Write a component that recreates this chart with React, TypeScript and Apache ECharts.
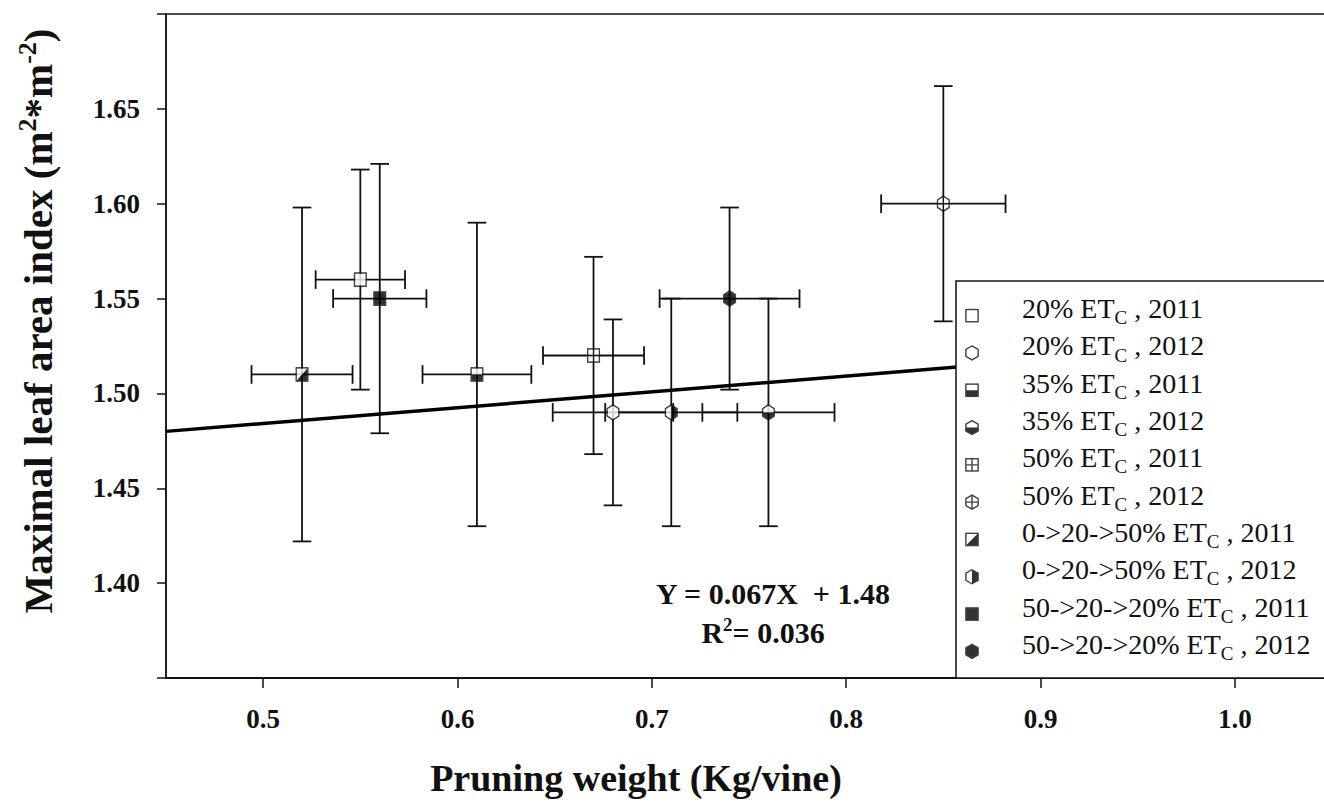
import React, { useEffect, useRef } from 'react';
import * as echarts from 'echarts';

// ---- data ----
const seriesNames = [
  '20% ETc , 2011',
  '20% ETc , 2012',
  '35% ETc , 2011',
  '35% ETc , 2012',
  '50% ETc , 2011',
  '50% ETc , 2012',
  '0->20->50% ETc , 2011',
  '0->20->50% ETc , 2012',
  '50->20->20% ETc , 2011',
  '50->20->20% ETc , 2012',
];
const markerKinds = [
  'square', 'hexagon', 'squareHalf', 'hexagonHalf', 'squarePlus',
  'hexagonPlus', 'squareDiag', 'hexagonRight', 'squareFilled', 'hexagonFilled',
];
const pruningWeight = [0.55, 0.68, 0.61, 0.76, 0.67, 0.85, 0.52, 0.71, 0.56, 0.74];
const pruningWeightError = [0.023, 0.031, 0.028, 0.034, 0.026, 0.032, 0.026, 0.034, 0.024, 0.036];
const leafAreaIndex = [1.56, 1.49, 1.51, 1.49, 1.52, 1.6, 1.51, 1.49, 1.55, 1.55];
const leafAreaIndexError = [0.058, 0.049, 0.08, 0.06, 0.052, 0.062, 0.088, 0.06, 0.071, 0.048];
const regressionX = [0.45, 1.05];
const regressionY = [1.48, 1.53];
const xTickValues = [0.5, 0.6, 0.7, 0.8, 0.9, 1.0];
const yLabelValues = [1.4, 1.45, 1.5, 1.55, 1.6, 1.65];
const equationText = 'Y = 0.067X  + 1.48';
const r2Text = 'R{sup|2}= 0.036';
const xTitle = 'Pruning weight (Kg/vine)';
const yTitle = 'Maximal leaf area index (m{sup|2}*m{sup|-2})';

const INK = '#111';
const SERIF = "'Liberation Serif', 'Times New Roman', serif";

function markerBody(kind: string, ox: number, oy: number): string {
  const sw = 1.6;
  let b = '';
  if (kind.startsWith('hexagon')) {
    const P = (pts: number[][]) => pts.map((p) => `${p[0] + ox},${p[1] + oy}`).join(' ');
    const outline = P([[8, 1], [15, 5], [15, 13], [8, 17], [1, 13], [1, 5]]);
    b += `<polygon points="${outline}" fill="${kind === 'hexagonFilled' ? '#000' : '#fff'}"/>`;
    if (kind === 'hexagonHalf') b += `<polygon points="${P([[1, 9], [15, 9], [15, 13], [8, 17], [1, 13]])}" fill="#000"/>`;
    if (kind === 'hexagonRight') b += `<polygon points="${P([[8, 1], [15, 5], [15, 13], [8, 17]])}" fill="#000"/>`;
    if (kind === 'hexagonPlus') {
      b += `<line x1="${8 + ox}" y1="${1 + oy}" x2="${8 + ox}" y2="${17 + oy}" stroke="${INK}" stroke-width="${sw}"/>`;
      b += `<line x1="${1 + ox}" y1="${9 + oy}" x2="${15 + ox}" y2="${9 + oy}" stroke="${INK}" stroke-width="${sw}"/>`;
    }
    b += `<polygon points="${outline}" fill="none" stroke="${INK}" stroke-width="${sw}"/>`;
  } else {
    const x0 = 1 + ox, y0 = 2 + oy, s = 14;
    b += `<rect x="${x0}" y="${y0}" width="${s}" height="${s}" fill="${kind === 'squareFilled' ? '#000' : '#fff'}"/>`;
    if (kind === 'squareHalf') b += `<rect x="${x0}" y="${y0 + s / 2}" width="${s}" height="${s / 2}" fill="#000"/>`;
    if (kind === 'squareDiag') b += `<polygon points="${x0 + s},${y0} ${x0 + s},${y0 + s} ${x0},${y0 + s}" fill="#000"/>`;
    if (kind === 'squarePlus') {
      b += `<line x1="${x0 + s / 2}" y1="${y0}" x2="${x0 + s / 2}" y2="${y0 + s}" stroke="${INK}" stroke-width="${sw}"/>`;
      b += `<line x1="${x0}" y1="${y0 + s / 2}" x2="${x0 + s}" y2="${y0 + s / 2}" stroke="${INK}" stroke-width="${sw}"/>`;
    }
    b += `<rect x="${x0}" y="${y0}" width="${s}" height="${s}" fill="none" stroke="${INK}" stroke-width="${sw}"/>`;
  }
  return b;
}

function markerImage(kind: string): string {
  const svg = `<svg xmlns="http://www.w3.org/2000/svg" width="16" height="18" viewBox="0 0 16 18">${markerBody(kind, 0, 0)}</svg>`;
  return 'image://data:image/svg+xml;base64,' + btoa(svg);
}

// legend icon: marker sits a little below the text's middle, as in the reference
function legendImage(kind: string): string {
  const svg = `<svg xmlns="http://www.w3.org/2000/svg" width="16" height="40" viewBox="0 0 16 40">${markerBody(kind, 0, 19)}</svg>`;
  return 'image://data:image/svg+xml;base64,' + btoa(svg);
}

export default function App() {
  const ref = useRef<HTMLDivElement>(null);

  useEffect(() => {
    if (!ref.current) return;
    const chart = echarts.init(ref.current, undefined, { renderer: 'svg' });

    const errorData = pruningWeight.map((x, i) => [x, leafAreaIndex[i], pruningWeightError[i], leafAreaIndexError[i]]);

    const scatterSeries = seriesNames.map((name, i) => ({
      type: 'scatter',
      name,
      data: [[pruningWeight[i], leafAreaIndex[i]]],
      symbol: markerImage(markerKinds[i]),
      symbolSize: [15, 17],
      z: 6,
      silent: true,
    }));

    const option: any = {
      animation: false,
      backgroundColor: '#fff',
      grid: {
        left: 166,
        right: 8,
        top: 14,
        bottom: 127,
        show: true,
        borderColor: INK,
        borderWidth: 1.5,
        backgroundColor: 'transparent',
      },
      xAxis: {
        type: 'value',
        min: 0.45,
        max: 1.05,
        axisLine: { show: true, onZero: false, lineStyle: { color: INK, width: 2.2 } },
        axisTick: { show: true, inside: false, length: 10, customValues: xTickValues, lineStyle: { color: INK, width: 1.5 } },
        axisLabel: {
          customValues: xTickValues,
          formatter: (v: number) => v.toFixed(1),
          margin: 27,
          color: INK,
          fontFamily: SERIF,
          fontWeight: 'bold',
          fontSize: 27,
        },
        splitLine: { show: false },
      },
      yAxis: {
        type: 'value',
        min: 1.35,
        max: 1.7,
        interval: 0.05,
        axisLine: { show: true, onZero: false, lineStyle: { color: INK, width: 1.5 } },
        axisTick: { show: true, inside: false, length: 9, lineStyle: { color: INK, width: 1.5 } },
        axisLabel: {
          formatter: (v: number) => (yLabelValues.some((t) => Math.abs(t - v) < 1e-6) ? v.toFixed(2) : ''),
          margin: 26,
          color: INK,
          fontFamily: SERIF,
          fontWeight: 'bold',
          fontSize: 27,
        },
        splitLine: { show: false },
      },
      legend: {
        orient: 'vertical',
        left: 956,
        top: 281,
        itemGap: 0,
        itemWidth: 14,
        itemHeight: 37,
        padding: [9, 40, 15, 9],
        backgroundColor: '#fff',
        borderColor: INK,
        borderWidth: 1.5,
        selectedMode: false,
        z: 10,
        data: seriesNames.map((name, i) => ({ name, icon: legendImage(markerKinds[i]) })),
        formatter: (name: string) => name.replace('ETc', 'ET{sub|C}'),
        textStyle: {
          fontFamily: SERIF,
          fontSize: 28,
          color: INK,
          lineHeight: 37.3,
          padding: [0, 0, 0, 38],
          rich: {
            sub: { fontFamily: SERIF, fontSize: 19, color: INK, lineHeight: 5, verticalAlign: 'bottom' },
          },
        },
      },
      series: [
        {
          type: 'custom',
          name: 'error bars',
          silent: true,
          z: 3,
          data: errorData,
          encode: { x: 0, y: 1 },
          renderItem: (params: any, api: any) => {
            const x = api.value(0), y = api.value(1), ex = api.value(2), ey = api.value(3);
            const top = api.coord([x, y + ey]);
            const bot = api.coord([x, y - ey]);
            const lft = api.coord([x - ex, y]);
            const rgt = api.coord([x + ex, y]);
            const cap = 9.3;
            const style = { stroke: INK, lineWidth: 1.8, fill: null };
            const L = (x1: number, y1: number, x2: number, y2: number) => ({ type: 'line', shape: { x1, y1, x2, y2 }, style });
            return {
              type: 'group',
              children: [
                L(top[0], top[1], bot[0], bot[1]),
                L(top[0] - cap, top[1], top[0] + cap, top[1]),
                L(bot[0] - cap, bot[1], bot[0] + cap, bot[1]),
                L(lft[0], lft[1], rgt[0], rgt[1]),
                L(lft[0], lft[1] - cap, lft[0], lft[1] + cap),
                L(rgt[0], rgt[1] - cap, rgt[0], rgt[1] + cap),
              ],
            };
          },
        },
        {
          type: 'line',
          name: 'regression',
          data: regressionX.map((x, i) => [x, regressionY[i]]),
          symbol: 'none',
          silent: true,
          z: 4,
          lineStyle: { color: '#000', width: 3.5 },
        },
        ...scatterSeries,
      ],
      graphic: [
        {
          type: 'text',
          x: 773,
          y: 593,
          z: 20,
          style: {
            text: equationText,
            fontFamily: SERIF,
            fontWeight: 'bold',
            fontSize: 30,
            fill: INK,
            align: 'center',
            verticalAlign: 'middle',
          },
        },
        {
          type: 'text',
          x: 763,
          y: 632,
          z: 20,
          style: {
            text: r2Text,
            fontFamily: SERIF,
            fontWeight: 'bold',
            fontSize: 30,
            lineHeight: 34,
            fill: INK,
            align: 'center',
            verticalAlign: 'middle',
            rich: {
              sup: { fontFamily: SERIF, fontWeight: 'bold', fontSize: 19, lineHeight: 16, verticalAlign: 'top', fill: INK },
            },
          },
        },
        {
          type: 'text',
          x: 636,
          y: 778,
          z: 20,
          style: {
            text: xTitle,
            fontFamily: SERIF,
            fontWeight: 'bold',
            fontSize: 38,
            fill: INK,
            align: 'center',
            verticalAlign: 'middle',
          },
        },
        {
          type: 'text',
          x: 38,
          y: 321,
          rotation: Math.PI / 2,
          z: 20,
          style: {
            text: yTitle,
            fontFamily: SERIF,
            fontWeight: 'bold',
            fontSize: 41,
            lineHeight: 47,
            fill: INK,
            align: 'center',
            verticalAlign: 'middle',
            rich: {
              sup: { fontFamily: SERIF, fontWeight: 'bold', fontSize: 26, lineHeight: 21, verticalAlign: 'top', fill: INK },
            },
          },
        },
      ],
    };

    chart.setOption(option);
    return () => chart.dispose();
  }, []);

  return (
    <div style={{ position: 'absolute', left: 0, top: 0, width: 1324, height: 805, overflow: 'hidden', background: '#fff' }}>
      <div ref={ref} style={{ width: 1340, height: 805 }} />
    </div>
  );
}
